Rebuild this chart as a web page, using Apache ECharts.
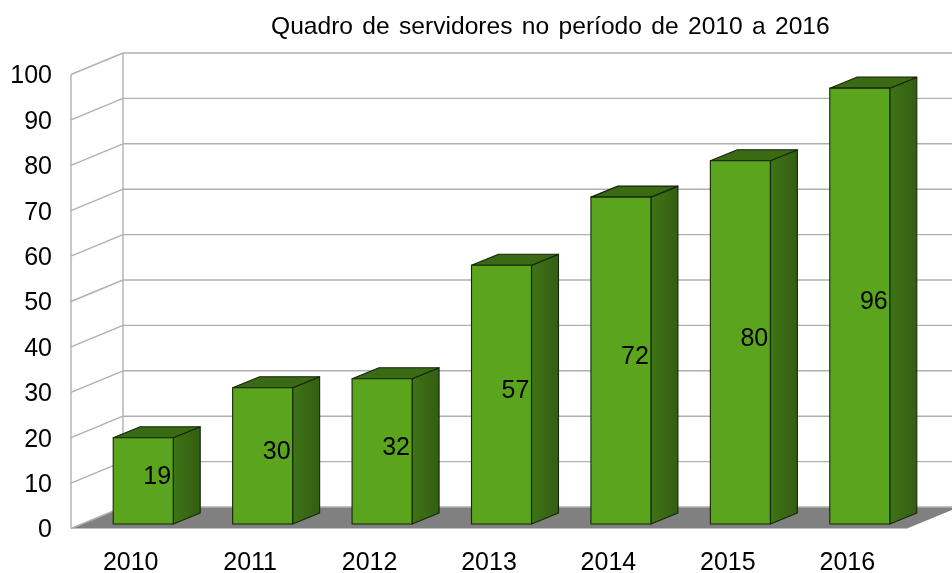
<!DOCTYPE html>
<html><head><meta charset="utf-8">
<style>html,body{margin:0;padding:0;background:#fff}#c{width:952px;height:573px}</style>
<script src="https://cdn.jsdelivr.net/npm/echarts@6/dist/echarts.min.js"></script>
</head><body><div id="c"></div>
<script>
const titleText = 'Quadro de servidores no período de 2010 a 2016';
const categories = ['2010','2011','2012','2013','2014','2015','2016'];
const values = [19,30,32,57,72,80,96];
const ticks = [0,10,20,30,40,50,60,70,80,90,100];
const FONT = '"Liberation Sans", Arial, sans-serif';
const WALL = {dx:52, dy:-21.5};
const BAR = {shiftX:12.5, shiftY:-4.5, width:60, dx:27, dy:-11};
const FRONT='#5aa51d', SIDE_A='#3f7416', SIDE_B='#335e11', TOP='#3a6a14', EDGE='#142607', GRID='#b0b0b0';

const chart = echarts.init(document.getElementById('c'), null, {renderer:'canvas'});

function poly(points, style){ return {type:'polygon', shape:{points}, style}; }
function line(a,b){ return {type:'line', shape:{x1:a[0],y1:a[1],x2:b[0],y2:b[1]}, style:{stroke:GRID,lineWidth:1.4,fill:null}}; }

function renderFrame(params, api){
  const v = api.value(0);
  const cs = params.coordSys;
  const L = cs.x, R = cs.x + cs.width;
  const y = api.coord([categories[0], v])[1];
  const els = [];
  els.push(line([L,y],[L+WALL.dx,y+WALL.dy]));
  els.push(line([L+WALL.dx,y+WALL.dy],[R+WALL.dx,y+WALL.dy]));
  if (v === ticks[0]) {
    els.unshift(poly([[L,y],[R,y],[R+WALL.dx,y+WALL.dy],[L+WALL.dx,y+WALL.dy]],{fill:'#808080'}));
    const top = api.coord([categories[0], ticks[ticks.length-1]])[1];
    els.push(line([L,y],[L,top]));
    els.push(line([L+WALL.dx,y+WALL.dy],[L+WALL.dx,top+WALL.dy]));
  }
  return {type:'group', children:els};
}

function renderBar(params, api){
  const idx = api.value(0), v = api.value(1);
  const p = api.coord([idx, v]), p0 = api.coord([idx, 0]);
  const x0 = p[0] + BAR.shiftX - BAR.width/2, x1 = x0 + BAR.width;
  const yT = p[1] + BAR.shiftY, yB = p0[1] + BAR.shiftY;
  const d = BAR.dx, e = BAR.dy;
  const edge = {stroke:EDGE, lineWidth:1.1, lineJoin:'round'};
  return {type:'group', children:[
    poly([[x1,yT],[x1+d,yT+e],[x1+d,yB+e],[x1,yB]],
      Object.assign({fill:new echarts.graphic.LinearGradient(0,0,1,0,[{offset:0,color:SIDE_A},{offset:1,color:SIDE_B}])},edge)),
    poly([[x0,yT],[x0+d,yT+e],[x1+d,yT+e],[x1,yT]], Object.assign({fill:TOP},edge)),
    {type:'rect', shape:{x:x0,y:yT,width:BAR.width,height:yB-yT}, style:Object.assign({fill:FRONT},edge)},
    {type:'text', x:p[0]+BAR.shiftX+d/2+0.5, y:(yT+yB)/2+e/2+2,
      style:{text:String(v), font:'25px '+FONT, fill:'#000', align:'center', verticalAlign:'middle'}}
  ]};
}

const titleWords = titleText.split(' ');
chart.setOption({
  animation:false,
  backgroundColor:'#fff',
  title:{text:titleWords.map((w,i)=>'{'+(i<titleWords.length-1?'w':'e')+'|'+w+'}').join(' '), left:266, top:10,
    textStyle:{fontFamily:FONT,fontSize:24.6,fontWeight:'normal',color:'#000',
      rich:{w:{fontFamily:FONT,fontSize:24.6,color:'#000',padding:[0,2.5,0,0]},e:{fontFamily:FONT,fontSize:24.6,color:'#000'}}}},
  grid:{left:71, top:74.5, width:836, height:454, containLabel:false, outerBoundsMode:'none'},
  xAxis:{type:'category', data:categories, axisLine:{show:false}, axisTick:{show:false}, splitLine:{show:false},
    axisLabel:{fontFamily:FONT,fontSize:25,color:'#000',margin:22,interval:0}},
  yAxis:{type:'value', min:0, max:100, interval:10, axisLine:{show:false}, axisTick:{show:false}, splitLine:{show:false},
    axisLabel:{fontFamily:FONT,fontSize:25,color:'#000',margin:19,verticalAlign:'top',lineHeight:4}},
  series:[
    {type:'custom', silent:true, z:1, data:ticks.map(t=>[t]), renderItem:renderFrame, encode:{y:0}},
    {type:'custom', silent:true, z:2, data:values.map((v,i)=>[i,v]), renderItem:renderBar, encode:{x:0,y:1}}
  ]
});
</script></body></html>
